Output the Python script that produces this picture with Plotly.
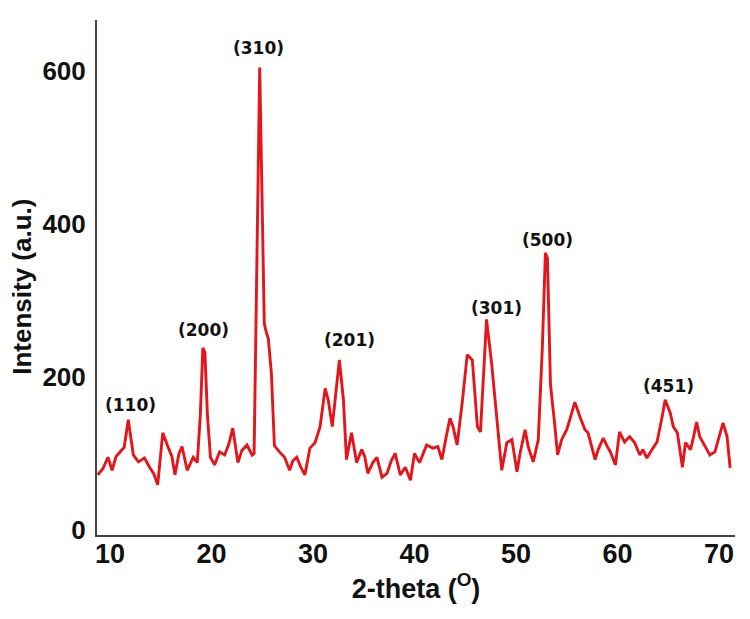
import plotly.graph_objects as go

two_theta = [8.8, 9.3, 9.8, 10.2, 10.6, 11.0, 11.4, 11.8, 12.3, 12.8, 13.4, 13.9, 14.3, 14.7,
             15.2, 15.7, 16.1, 16.4, 16.8, 17.1, 17.6, 18.2, 18.6, 18.9, 19.15, 19.35, 19.6, 19.9,
             20.3, 20.8, 21.3, 21.7, 22.1, 22.6, 23.0, 23.5, 24.0, 24.2, 24.45, 24.75, 25.0, 25.2,
             25.4, 25.6, 25.9, 26.2, 26.7, 27.2, 27.7, 28.0, 28.4, 28.8, 29.2, 29.7, 30.2, 30.7,
             31.2, 31.5, 31.9, 32.3, 32.6, 33.0, 33.3, 33.8, 34.3, 34.8, 35.1, 35.4, 35.9, 36.3,
             36.8, 37.3, 37.7, 38.1, 38.6, 39.1, 39.6, 40.0, 40.5, 41.2, 41.8, 42.3, 42.7, 43.1,
             43.5, 43.8, 44.2, 44.7, 45.2, 45.7, 46.2, 46.5, 46.8, 47.1, 47.6, 48.1, 48.6, 49.1,
             49.6, 50.1, 50.4, 50.9, 51.2, 51.7, 52.2, 52.6, 52.9, 53.1, 53.4, 53.8, 54.1, 54.5,
             55.0, 55.3, 55.8, 56.3, 56.8, 57.1, 57.5, 57.8, 58.1, 58.6, 59.0, 59.3, 59.8, 60.2,
             60.7, 61.2, 61.7, 62.2, 62.5, 62.9, 63.4, 63.9, 64.4, 64.7, 65.2, 65.5, 65.9, 66.4,
             66.7, 67.2, 67.5, 67.8, 68.1, 68.6, 69.1, 69.6, 70.1, 70.4, 70.8, 71.1]
intensity = [72, 80, 95, 78, 96, 102, 108, 144, 98, 89, 94, 82, 74, 59,
             127, 109, 96, 72, 100, 109, 78, 95, 88, 150, 238, 232, 150, 95,
             85, 102, 98, 112, 133, 88, 104, 111, 98, 100, 330, 604, 420, 270,
             258, 250, 205, 110, 102, 95, 78, 90, 95, 82, 72, 107, 114, 135,
             185, 170, 135, 190, 222, 170, 92, 127, 88, 105, 96, 74, 88, 95,
             69, 74, 90, 100, 72, 82, 65, 100, 88, 111, 107, 109, 92, 120,
             146, 135, 111, 166, 229, 222, 135, 128, 200, 275, 218, 144, 78, 114,
             118, 76, 100, 131, 109, 89, 118, 239, 362, 355, 190, 140, 98, 118,
             131, 144, 167, 148, 131, 127, 105, 92, 105, 120, 109, 102, 85, 128,
             115, 122, 114, 98, 105, 94, 105, 115, 148, 170, 153, 135, 127, 82,
             114, 105, 122, 141, 122, 109, 98, 102, 127, 140, 122, 81]

peak_labels = ["(110)", "(200)", "(310)", "(201)", "(301)", "(500)", "(451)"]
peak_x = [12.0, 19.2, 24.6, 33.6, 48.1, 53.1, 65.0]
peak_y = [163, 261, 630, 248, 290, 379, 188]

x_ticks = [10, 20, 30, 40, 50, 60, 70]
y_ticks = [0, 200, 400, 600]

fig = go.Figure()
fig.add_trace(go.Scatter(x=two_theta, y=intensity, mode="lines",
                         line=dict(color="#e4161c", width=2.9), showlegend=False))

for lab, px, py in zip(peak_labels, peak_x, peak_y):
    fig.add_annotation(x=px, y=py, text=lab, showarrow=False,
                       font=dict(family="DejaVu Sans", size=17, color="#111111", weight="bold"))

# y-axis title, placed slightly below the plot's vertical centre as in the reference
fig.add_annotation(xref="paper", yref="paper", x=0, y=0.482, xshift=-75,
                   text="Intensity (a.u.)", textangle=-90, showarrow=False,
                   xanchor="center", yanchor="middle",
                   font=dict(family="Liberation Sans, Arial", size=26, color="#111111", weight="bold"))

# page body adds an 8px margin, so the figure is sized to fit the 750x619 window
fig.update_layout(
    width=734, height=603,
    margin=dict(l=89, r=7, t=12, b=76),
    paper_bgcolor="white", plot_bgcolor="white",
    xaxis=dict(range=[8.72, 71.58], tickvals=x_ticks, showgrid=False, zeroline=False,
               showline=True, linecolor="#444444", linewidth=2, ticks="",
               automargin=False, ticklabelstandoff=-6,
               tickfont=dict(family="Liberation Sans, Arial", size=27, color="#111111", weight="bold"),
               title=dict(text="2-theta (<sup>O</sup>)", standoff=3,
                          font=dict(family="Liberation Sans, Arial", size=27, color="#111111", weight="bold"))),
    yaxis=dict(range=[-6.5, 666], tickvals=y_ticks, showgrid=False, zeroline=False,
               showline=True, linecolor="#444444", linewidth=2, ticks="",
               automargin=False, ticklabelstandoff=4,
               tickfont=dict(family="Liberation Sans, Arial", size=26, color="#111111", weight="bold")),
)

fig.write_html("out.html")
